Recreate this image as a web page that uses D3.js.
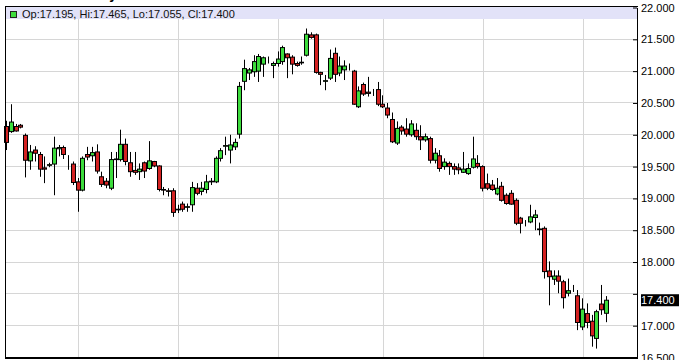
<!DOCTYPE html>
<html>
<head>
<meta charset="utf-8">
<script src="https://cdnjs.cloudflare.com/ajax/libs/d3/7.8.5/d3.min.js"></script>
<style>
    body {margin: 0; background: #fff;}
    svg {display: block;}
</style>
</head>
<body>
<div class="chart_container"></div>
<script>
    //daily candles, oldest first
    var opens = [20.13,20.05,20.13,20.15,19.99,19.59,19.76,19.69,19.48,19.52,
                 19.54,19.78,19.80,19.63,19.54,19.26,19.13,19.69,19.67,19.73,
                 19.34,19.27,19.16,19.61,19.61,19.85,19.56,19.44,19.42,19.56,
                 19.47,19.58,19.51,19.14,19.12,19.12,18.82,18.91,18.86,18.90,
                 19.16,19.11,19.14,19.26,19.26,19.63,19.82,19.76,19.81,20.01,
                 20.84,20.97,20.99,21.00,21.11,21.20,21.09,21.12,21.15,21.27,
                 21.22,21.12,21.13,21.25,21.57,21.57,20.98,20.84,20.89,21.28,
                 20.97,21.02,21.07,21.00,20.44,20.79,20.67,20.66,20.71,20.48,
                 20.42,20.24,19.87,20.12,20.09,20.00,20.07,19.97,19.92,19.94,
                 19.60,19.67,19.50,19.55,19.50,19.48,19.41,19.39,19.49,19.55,
                 19.50,19.23,19.21,19.07,19.19,19.05,19.08,18.97,18.69,18.62,
                 18.63,18.70,18.51,18.53,17.86,17.73,17.78,17.69,17.51,17.60,
                 17.47,16.98,17.19,17.07,16.80,17.34,17.195];
    var highs = [20.22,20.48,20.17,20.17,20.02,19.84,19.82,19.73,19.66,19.56,
                 19.97,19.84,19.83,19.68,19.58,19.32,19.66,19.81,19.81,19.85,
                 19.42,19.32,19.73,19.73,20.08,19.94,19.73,19.73,19.55,19.58,
                 19.90,19.59,19.52,19.18,19.16,19.16,18.90,18.95,18.92,19.26,
                 19.24,19.26,19.37,19.32,19.66,19.79,19.97,20.00,19.94,20.83,
                 21.18,21.05,21.25,21.27,21.23,21.23,21.15,21.31,21.40,21.28,
                 21.25,21.15,21.23,21.67,21.61,21.59,20.99,20.94,21.34,21.37,
                 21.23,21.17,21.12,21.02,20.76,20.82,20.91,20.72,20.83,20.62,
                 20.50,20.35,20.21,20.15,20.26,20.23,20.18,20.15,20.02,19.97,
                 19.79,19.76,19.63,19.58,19.55,19.55,19.73,19.55,19.97,19.68,
                 19.52,19.39,19.29,19.32,19.26,19.08,19.13,19.00,18.71,18.66,
                 18.90,18.82,18.62,18.56,18.01,17.87,17.87,17.72,17.74,17.64,
                 17.56,17.43,17.35,17.17,17.25,17.64,17.465];
    var lows = [19.76,20.03,20.05,20.10,19.33,19.45,19.58,19.34,19.24,19.49,
                19.05,19.66,19.62,19.45,19.21,18.79,19.11,19.60,19.58,19.39,
                19.18,19.16,19.13,19.32,19.58,19.52,19.34,19.37,19.29,19.32,
                19.45,19.49,19.11,19.05,19.03,18.71,18.77,18.79,18.79,18.79,
                19.05,19.05,19.08,19.21,19.24,19.58,19.68,19.55,19.76,19.94,
                20.70,20.86,20.91,20.83,20.91,21.12,20.89,21.07,21.10,20.89,
                20.95,21.07,21.10,21.23,21.51,20.96,20.78,20.70,20.86,20.83,
                20.92,20.86,21.01,20.47,20.42,20.61,20.60,20.61,20.45,20.42,
                20.26,19.87,19.84,20.00,19.97,19.97,19.92,19.76,19.89,19.55,
                19.55,19.42,19.45,19.37,19.37,19.38,19.40,19.37,19.47,19.47,
                19.11,19.13,19.12,19.05,18.95,18.90,18.90,18.58,18.45,18.56,
                18.61,18.50,18.42,17.74,17.32,17.64,17.51,17.27,17.46,17.53,
                16.93,16.93,16.96,16.67,16.64,17.17,17.055];
    var closes = [19.88,20.20,20.06,20.12,19.60,19.73,19.71,19.46,19.46,19.53,
                  19.79,19.80,19.69,19.63,19.25,19.13,19.63,19.65,19.72,19.43,
                  19.22,19.21,19.61,19.62,19.85,19.58,19.42,19.41,19.46,19.43,
                  19.59,19.51,19.14,19.13,19.11,18.78,18.83,18.83,18.87,19.17,
                  19.08,19.16,19.26,19.27,19.63,19.75,19.83,19.84,19.88,20.76,
                  21.04,21.02,21.15,21.23,21.21,21.20,21.12,21.19,21.37,21.21,
                  21.11,21.09,21.14,21.58,21.53,20.98,20.95,20.85,21.20,20.95,
                  21.08,21.08,21.07,20.48,20.69,20.64,20.65,20.66,20.48,20.44,
                  20.31,19.89,20.10,20.06,20.01,20.17,19.97,19.92,19.97,19.60,
                  19.71,19.47,19.57,19.50,19.46,19.45,19.46,19.47,19.62,19.50,
                  19.16,19.16,19.14,19.16,18.97,18.92,18.91,18.61,18.61,18.62,
                  18.71,18.74,18.52,17.85,17.77,17.78,17.70,17.44,17.55,17.60,
                  17.05,17.26,17.05,16.84,17.22,17.25,17.400];

    //candle index where each month starts (vertical grid)
    var monthStarts = [15, 36, 57, 79, 100, 121];
    //price ticks on the right
    var yTicks = [16.5, 17, 17.5, 18, 18.5, 19, 19.5, 20, 20.5, 21, 21.5, 22];
    var title = 'Silver Daily';

    var w = 679, h = 360;
    var p_l = 5.5, p_r = 637.5, p_t = 6.5, p_b = 357.5;
    var green = '#3ddc3d', red = '#d42222';
    var font = 'Arial, "Liberation Sans", sans-serif';

    var svg = d3.select('.chart_container')
                .append('svg')
                .attr('width', w)
                .attr('height', h)
                .style('font-family', font);

    var candles = opens.map(function(o, i){
        return {i: i, o: o, h: highs[i], l: lows[i], c: closes[i]};
    });
    var last = candles[candles.length - 1];

    var y_scale = d3.scaleLinear()
                    .domain([16.5, 22])
                    .range([357.5, 7.5]);

    var x_scale = d3.scaleBand()
                    .domain(d3.range(candles.length))
                    .range([4.3, 608.9]);

    function cx(i){ return x_scale(i) + x_scale.bandwidth() / 2; }
    function crisp(v){ return Math.floor(v) + 0.5; }

    //title, mostly cut off above the picture
    svg.append('text')
        .attr('x', 117)
        .attr('y', -1)
        .attr('text-anchor', 'end')
        .style('font', 'bold 14px ' + font)
        .text(title);

    //grid
    svg.append('g').selectAll('line')
        .data(yTicks)
        .enter()
        .append('line')
        .attr('x1', p_l).attr('x2', p_r)
        .attr('y1', d => crisp(y_scale(d))).attr('y2', d => crisp(y_scale(d)))
        .style('stroke', '#d6d6d6');

    svg.append('g').selectAll('line')
        .data(monthStarts)
        .enter()
        .append('line')
        .attr('x1', d => Math.round(cx(d)) + 0.5).attr('x2', d => Math.round(cx(d)) + 0.5)
        .attr('y1', p_t).attr('y2', p_b)
        .style('stroke', '#d6d6d6');

    //header band with last candle values
    var f3 = d3.format('.3f');
    svg.append('rect')
        .attr('x', 6).attr('y', 7)
        .attr('width', p_r - 6.5).attr('height', 12)
        .style('fill', '#e2e2f8');
    svg.append('rect')
        .attr('x', 10.5).attr('y', 11.5)
        .attr('width', 6).attr('height', 6)
        .style('fill', last.c >= last.o ? green : red)
        .style('stroke', '#222');
    svg.append('text')
        .attr('x', 22).attr('y', 17.5)
        .style('font-size', '11px')
        .style('fill', '#111')
        .text('Op:' + f3(last.o) + ', Hi:' + f3(last.h) + ', Lo:' + f3(last.l) + ', Cl:' + f3(last.c));

    //candles
    var g = svg.append('g').selectAll('g')
                .data(candles)
                .enter()
                .append('g');

    g.append('line')
        .attr('x1', d => crisp(cx(d.i))).attr('x2', d => crisp(cx(d.i)))
        .attr('y1', d => y_scale(d.h)).attr('y2', d => y_scale(d.l))
        .style('stroke', '#000');

    g.append('rect')
        .attr('x', d => Math.floor(cx(d.i)) - 1.5)
        .attr('width', 4)
        .attr('y', d => y_scale(Math.max(d.o, d.c)))
        .attr('height', d => Math.abs(y_scale(d.o) - y_scale(d.c)))
        .style('fill', d => d.c >= d.o ? green : red)
        .style('stroke', '#000')
        .style('stroke-width', 1);

    //frame
    svg.append('line')
        .attr('x1', 5).attr('x2', p_r + 0.5)
        .attr('y1', p_t).attr('y2', p_t)
        .style('stroke', '#000');
    svg.append('line')
        .attr('x1', p_l).attr('x2', p_l)
        .attr('y1', p_t).attr('y2', p_b + 1)
        .style('stroke', '#000');
    svg.append('line')
        .attr('x1', 5).attr('x2', p_r + 0.5)
        .attr('y1', 358).attr('y2', 358)
        .style('stroke', '#000')
        .style('stroke-width', 2);

    //price axis
    var ly = y_scale(last.c);
    var y_axis = d3.axisRight(y_scale)
                    .tickValues(yTicks)
                    .tickFormat(f3)
                    .tickSizeInner(-4)
                    .tickSizeOuter(0)
                    .tickPadding(4);
    var ax = svg.append('g')
        .attr('transform', 'translate(' + (p_r - 0.5) + ',0)')
        .call(y_axis);
    ax.selectAll('text')
        .style('font', '11px ' + font)
        .style('fill', '#000');
    //label hidden under the last price tag
    ax.selectAll('.tick')
        .filter(d => Math.abs(y_scale(d) - ly) < 12)
        .select('text')
        .remove();
    ax.selectAll('line, path').style('stroke', '#000');

    //last price tag
    svg.append('rect')
        .attr('x', 641).attr('y', ly - 6)
        .attr('width', 38).attr('height', 12)
        .style('fill', '#000');
    svg.append('text')
        .attr('x', 641).attr('y', ly)
        .attr('dy', '0.36em')
        .style('font', '11px ' + font)
        .style('fill', '#fff')
        .text(f3(last.c));
</script>
</body>
</html>
